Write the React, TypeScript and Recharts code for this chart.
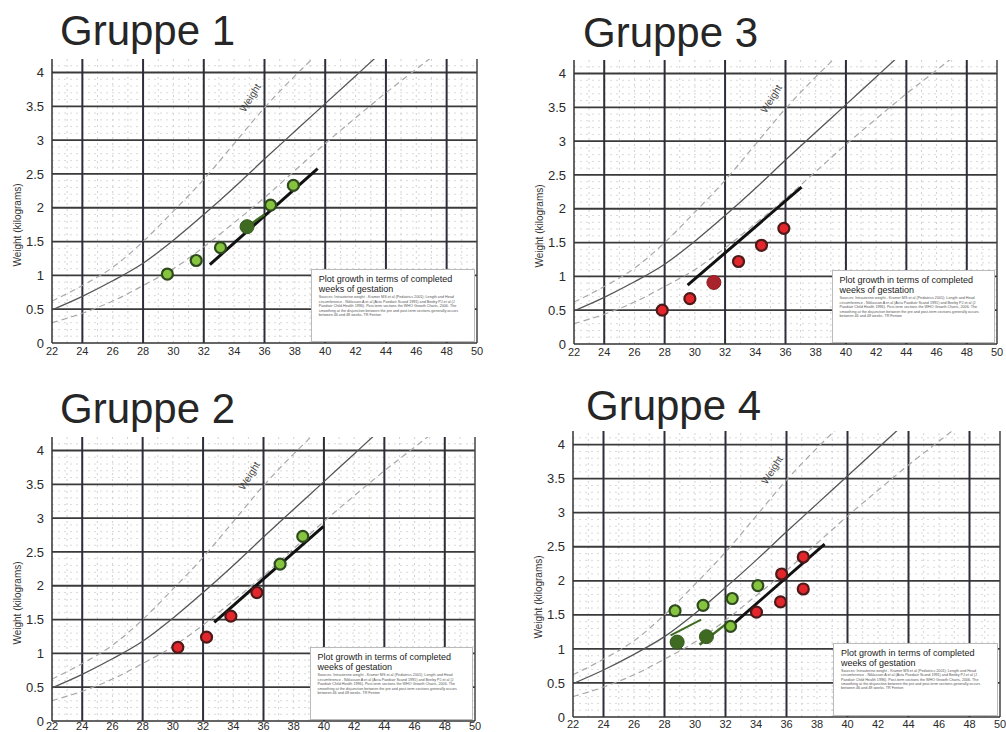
import React from 'react';
import {
  ComposedChart,
  Line,
  Scatter,
  XAxis,
  YAxis,
  ReferenceLine,
  ReferenceDot
} from 'recharts';

// axis ticks
const xTicks = [22, 24, 26, 28, 30, 32, 34, 36, 38, 40, 42, 44, 46, 48, 50];
const yTicks = [0, 0.5, 1, 1.5, 2, 2.5, 3, 3.5, 4];

// grid
const majorWeeks = [24, 28, 32, 36, 40, 44, 48];
const minorWeeks = [23, 25, 26, 27, 29, 30, 31, 33, 34, 35, 37, 38, 39, 41, 42, 43, 45, 46, 47, 49];
const majorKg = [0.5, 1, 1.5, 2, 2.5, 3, 3.5, 4];
const minorKg = [
  0.1, 0.2, 0.3, 0.4, 0.6, 0.7, 0.8, 0.9, 1.1, 1.2, 1.3, 1.4, 1.6, 1.7, 1.8, 1.9,
  2.1, 2.2, 2.3, 2.4, 2.6, 2.7, 2.8, 2.9, 3.1, 3.2, 3.3, 3.4, 3.6, 3.7, 3.8, 3.9, 4.1
];

// reference curves
const curveWeeks = [22, 24, 26, 28, 30, 32, 34, 36, 38, 40, 42, 44, 46, 48];
const upperKg = [0.62, 0.85, 1.12, 1.5, 1.95, 2.42, 2.95, 3.48, 3.95, 4.38, null, null, null, null];
const medianKg = [0.49, 0.69, 0.92, 1.18, 1.52, 1.9, 2.3, 2.72, 3.13, 3.54, 3.95, 4.36, null, null];
const lowerKg = [0.3, 0.44, 0.62, 0.85, 1.1, 1.42, 1.78, 2.15, 2.55, 2.95, 3.33, 3.7, 4.05, 4.4];

// Gruppe 1
const g1GreenWeeks = [29.6, 31.5, 33.1, 36.4, 37.9];
const g1GreenKg = [1.02, 1.22, 1.41, 2.04, 2.33];
const g1DarkWeeks = [34.85];
const g1DarkKg = [1.72];
const g1TrendWeeks = [32.4, 39.5];
const g1TrendKg = [1.16, 2.58];
const g1TailWeeks = [34.85, 36.0];
const g1TailKg = [1.72, 1.9];

// Gruppe 2
const g2RedWeeks = [30.33, 32.23, 33.84, 35.56];
const g2RedKg = [1.09, 1.24, 1.55, 1.9];
const g2GreenWeeks = [37.1, 38.6];
const g2GreenKg = [2.32, 2.73];
const g2TrendWeeks = [32.74, 39.97];
const g2TrendKg = [1.46, 2.88];

// Gruppe 3
const g3RedWeeks = [27.84, 29.67, 32.89, 34.41, 35.89];
const g3RedKg = [0.5, 0.67, 1.22, 1.46, 1.71];
const g3DarkWeeks = [31.26];
const g3DarkKg = [0.91];
const g3TrendWeeks = [29.52, 37.06];
const g3TrendKg = [0.87, 2.32];

// Gruppe 4
const g4GreenWeeks = [28.69, 30.53, 32.44, 34.12, 32.33];
const g4GreenKg = [1.56, 1.64, 1.74, 1.93, 1.33];
const g4DarkWeeks = [28.83, 30.75];
const g4DarkKg = [1.1, 1.18];
const g4RedWeeks = [34.03, 35.61, 35.68, 37.1, 37.1];
const g4RedKg = [1.54, 1.69, 2.1, 2.35, 1.88];
const g4TrendWeeks = [32.33, 38.5];
const g4TrendKg = [1.33, 2.54];
const g4LineAWeeks = [28.4, 30.4];
const g4LineAKg = [1.2, 1.43];
const g4LineBWeeks = [30.3, 32.0];
const g4LineBKg = [1.06, 1.36];

const FONT = '"Liberation Sans", Arial, sans-serif';
const SOURCE_TEXT =
  'Sources: Intrauterine weight - Kramer MS et al (Pediatrics 2001); Length and Head circumference - ' +
  'Niklasson A et al (Acta Paediatr Scand 1991) and Beeby PJ et al (J Paediatr Child Health 1996). ' +
  'Post-term sections the WHO Growth Charts, 2006. The smoothing at the disjunction between the pre and ' +
  'post-term sections generally occurs between 46 and 48 weeks. TR Fenton';

const zip = (ws: number[], ks: (number | null)[]) =>
  ws.map((w, i) => ({ w, v: ks[i] })).filter((d) => d.v != null);

const dot = (fill: string, stroke: string, r: number, sw: number) => (props: any) => (
  <circle cx={props.cx} cy={props.cy} r={r} fill={fill} stroke={stroke} strokeWidth={sw} />
);
const greenDot = dot('#86c440', '#2f4a1e', 5.5, 2.2);
const redDot = dot('#e2262b', '#4d1a1a', 5.5, 2.2);
const darkGreenDot = dot('#3e6a22', '#35591e', 7, 1);
const darkRedDot = dot('#a8232b', '#8f1e24', 7, 1);

type PointGroup = { weeks: number[]; kg: number[]; shape: any };
type LineGroup = { weeks: number[]; kg: number[]; stroke: string; width: number };

interface PanelCfg {
  title: string;
  titleX: number;
  titleBaseline: number;
  L: number;
  T: number;
  plotW: number;
  plotH: number;
  xTickGap: number;
  points: PointGroup[];
  lines: LineGroup[];
}

const panels: PanelCfg[] = [
  {
    title: 'Gruppe 1', titleX: 60, titleBaseline: 46, L: 52, T: 59, plotW: 425, plotH: 284, xTickGap: 4,
    points: [
      { weeks: g1GreenWeeks, kg: g1GreenKg, shape: greenDot },
      { weeks: g1DarkWeeks, kg: g1DarkKg, shape: darkGreenDot }
    ],
    lines: [
      { weeks: g1TrendWeeks, kg: g1TrendKg, stroke: '#111', width: 3 },
      { weeks: g1TailWeeks, kg: g1TailKg, stroke: '#3e6a22', width: 2.5 }
    ]
  },
  {
    title: 'Gruppe 3', titleX: 583, titleBaseline: 48, L: 574, T: 60, plotW: 423, plotH: 284, xTickGap: 4,
    points: [
      { weeks: g3RedWeeks, kg: g3RedKg, shape: redDot },
      { weeks: g3DarkWeeks, kg: g3DarkKg, shape: darkRedDot }
    ],
    lines: [{ weeks: g3TrendWeeks, kg: g3TrendKg, stroke: '#111', width: 3 }]
  },
  {
    title: 'Gruppe 2', titleX: 60, titleBaseline: 424, L: 52, T: 437, plotW: 423, plotH: 284, xTickGap: 1,
    points: [
      { weeks: g2RedWeeks, kg: g2RedKg, shape: redDot },
      { weeks: g2GreenWeeks, kg: g2GreenKg, shape: greenDot }
    ],
    lines: [{ weeks: g2TrendWeeks, kg: g2TrendKg, stroke: '#111', width: 3 }]
  },
  {
    title: 'Gruppe 4', titleX: 586, titleBaseline: 421, L: 573, T: 431, plotW: 427, plotH: 286, xTickGap: 3,
    points: [
      { weeks: g4GreenWeeks, kg: g4GreenKg, shape: greenDot },
      { weeks: g4DarkWeeks, kg: g4DarkKg, shape: darkGreenDot },
      { weeks: g4RedWeeks, kg: g4RedKg, shape: redDot }
    ],
    lines: [
      { weeks: g4TrendWeeks, kg: g4TrendKg, stroke: '#111', width: 3 },
      { weeks: g4LineAWeeks, kg: g4LineAKg, stroke: '#3e6a22', width: 2 },
      { weeks: g4LineBWeeks, kg: g4LineBKg, stroke: '#3e6a22', width: 2.5 }
    ]
  }
];

const weightLabel = (props: any) => (
  <text
    x={props.cx}
    y={props.cy}
    transform={`rotate(-58, ${props.cx}, ${props.cy})`}
    textAnchor="middle"
    dominantBaseline="middle"
    fontSize={10}
    fontFamily={FONT}
    fill="#444"
  >
    Weight
  </text>
);

const Panel: React.FC<{ cfg: PanelCfg }> = ({ cfg }) => {
  const sx = cfg.plotW / 28;
  const sy = cfg.plotH / 4.2;
  const W = cfg.plotW + 65;
  const H = cfg.plotH + 86;
  const boxLeft = cfg.L + (39.05 - 22) * sx;
  const boxTop = cfg.T + (4.2 - 1.09) * sy;

  return (
    <>
      <div
        style={{
          position: 'absolute',
          left: cfg.titleX,
          top: cfg.titleBaseline - 36,
          fontFamily: FONT,
          fontSize: 42,
          lineHeight: '42px',
          color: '#262626',
          whiteSpace: 'nowrap'
        }}
      >
        {cfg.title}
      </div>
      <div style={{ position: 'absolute', left: cfg.L - 52, top: cfg.T - 59 }}>
        <ComposedChart width={W} height={H} margin={{ top: 59, right: 13, bottom: 7, left: 8 }}>
          <XAxis
            type="number"
            dataKey="w"
            domain={[22, 50]}
            ticks={xTicks}
            interval={0}
            allowDataOverflow
            height={20}
            tickSize={cfg.xTickGap}
            tickMargin={0}
            tickLine={false}
            axisLine={{ stroke: '#333', strokeWidth: 1.5 }}
            tick={{ fontSize: 11, fill: '#2a2a2a', fontFamily: FONT }}
          />
          <YAxis
            type="number"
            dataKey="v"
            domain={[0, 4.2]}
            ticks={yTicks}
            interval={0}
            allowDataOverflow
            width={44}
            tickSize={6}
            tickMargin={2}
            tickLine={false}
            axisLine={{ stroke: '#333', strokeWidth: 1.5 }}
            tick={{ fontSize: 13, fill: '#2a2a2a', fontFamily: FONT }}
          />
          {minorKg.map((k) => (
            <ReferenceLine key={'mk' + k} y={k} stroke="#dadada" strokeDasharray="2 4" zIndex={-60} />
          ))}
          {minorWeeks.map((w) => (
            <ReferenceLine key={'mw' + w} x={w} stroke="#d2d2d2" strokeDasharray="2 4" zIndex={-60} />
          ))}
          {majorKg.map((k) => (
            <ReferenceLine key={'k' + k} y={k} stroke="#3a3a3a" strokeWidth={1.8} zIndex={-50} />
          ))}
          {majorWeeks.map((w) => (
            <ReferenceLine key={'w' + w} x={w} stroke="#2e2e3a" strokeWidth={2} zIndex={-50} />
          ))}
          <ReferenceLine x={50} stroke="#444" strokeWidth={1.5} zIndex={-50} />
          <Line
            data={zip(curveWeeks, upperKg)}
            dataKey="v"
            type="monotone"
            stroke="#a8a8a8"
            strokeWidth={1.2}
            strokeDasharray="6 4"
            dot={false}
            isAnimationActive={false}
          />
          <Line
            data={zip(curveWeeks, lowerKg)}
            dataKey="v"
            type="monotone"
            stroke="#a8a8a8"
            strokeWidth={1.2}
            strokeDasharray="6 4"
            dot={false}
            isAnimationActive={false}
          />
          <Line
            data={zip(curveWeeks, medianKg)}
            dataKey="v"
            type="monotone"
            stroke="#555"
            strokeWidth={1.3}
            dot={false}
            isAnimationActive={false}
          />
          <ReferenceDot x={35.1} y={3.62} r={0} shape={weightLabel} />
          {cfg.lines.map((l, i) => (
            <Line
              key={'l' + i}
              data={zip(l.weeks, l.kg)}
              dataKey="v"
              type="linear"
              stroke={l.stroke}
              strokeWidth={l.width}
              dot={false}
              isAnimationActive={false}
            />
          ))}
          {cfg.points.map((p, i) => (
            <Scatter key={'p' + i} data={zip(p.weeks, p.kg)} shape={p.shape} isAnimationActive={false} />
          ))}
        </ComposedChart>
      </div>
      <div
        style={{
          position: 'absolute',
          left: cfg.L - 35,
          top: cfg.T + 166,
          transform: 'translate(-50%, -50%) rotate(-90deg)',
          fontFamily: FONT,
          fontSize: 10,
          color: '#333',
          whiteSpace: 'nowrap'
        }}
      >
        Weight (kilograms)
      </div>
      <div
        style={{
          position: 'absolute',
          left: boxLeft,
          top: boxTop,
          width: (49.9 - 39.05) * sx,
          height: 1.09 * sy - 1,
          background: '#fff',
          border: '1px solid #bbb',
          boxSizing: 'border-box',
          padding: '4px 6px 0 7px',
          fontFamily: FONT,
          overflow: 'hidden'
        }}
      >
        <div style={{ fontSize: 9, lineHeight: '10px', color: '#222' }}>
          Plot growth in terms of completed
          <br />
          weeks of gestation
        </div>
        <div style={{ fontSize: 3.7, lineHeight: '4.4px', color: '#555', marginTop: 1 }}>{SOURCE_TEXT}</div>
      </div>
    </>
  );
};

const App: React.FC = () => {
  return (
    <div
      style={{
        position: 'absolute',
        left: 0,
        top: 0,
        width: 1006,
        height: 732,
        overflow: 'hidden',
        background: '#fff'
      }}
    >
      {panels.map((p) => (
        <Panel key={p.title} cfg={p} />
      ))}
    </div>
  );
};

export default App;
